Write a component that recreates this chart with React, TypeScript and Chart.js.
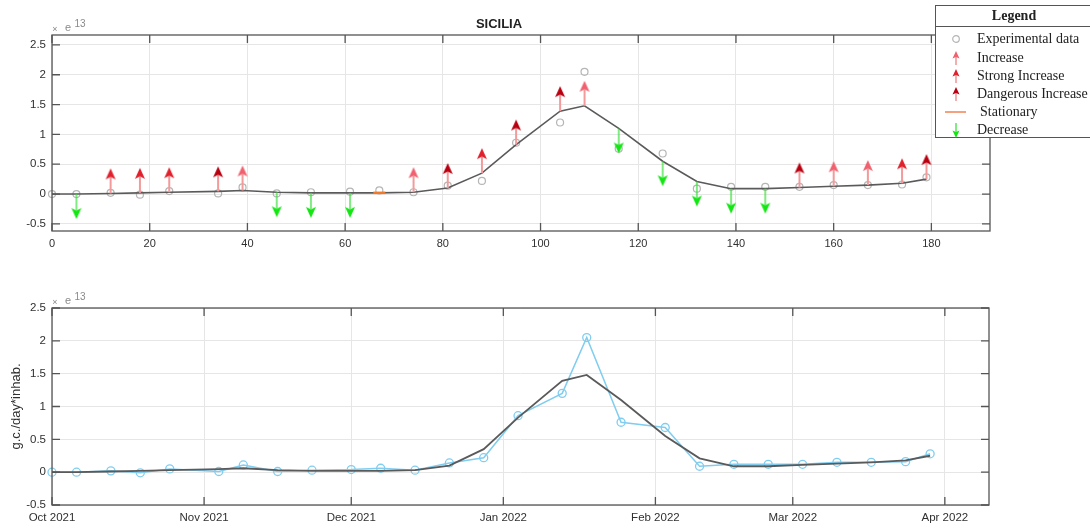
import React, { useEffect, useRef } from 'react';
import { Chart, registerables } from 'chart.js';

Chart.register(...registerables);

// Sampling days, counted from 1 Oct 2021 (values in units of 1e13 g.c./day*inhab.)
const DAYS = [0, 5, 12, 18, 24, 34, 39, 46, 53, 61, 67, 74, 81, 88, 95, 104, 109, 116, 125, 132, 139, 146, 153, 160, 167, 174, 179];
const EXPERIMENTAL = [0.0, 0.0, 0.02, -0.01, 0.05, 0.01, 0.11, 0.01, 0.03, 0.04, 0.06, 0.03, 0.14, 0.22, 0.86, 1.2, 2.05, 0.76, 0.68, 0.09, 0.12, 0.12, 0.12, 0.15, 0.15, 0.16, 0.28];
const TREND = [0.0, 0.0, 0.01, 0.02, 0.03, 0.045, 0.06, 0.03, 0.02, 0.02, 0.02, 0.03, 0.1, 0.35, 0.83, 1.39, 1.48, 1.1, 0.55, 0.21, 0.09, 0.09, 0.11, 0.13, 0.15, 0.18, 0.25];
// '' none, dec Decrease, inc Increase, strong Strong Increase, danger Dangerous Increase, stat Stationary
const TREND_CLASS = ['', 'dec', 'strong', 'strong', 'strong', 'danger', 'inc', 'dec', 'dec', 'dec', 'stat', 'inc', 'danger', 'strong', 'danger', 'danger', 'inc', 'dec', 'dec', 'dec', 'dec', 'dec', 'danger', 'inc', 'inc', 'strong', 'danger'];

const TOP_X_TICKS = [0, 20, 40, 60, 80, 100, 120, 140, 160, 180];
const Y_TICKS = [-0.5, 0, 0.5, 1, 1.5, 2, 2.5];
const MONTH_TICKS = [0, 31, 61, 92, 123, 151, 182];
const MONTH_LABELS = ['Oct 2021', 'Nov 2021', 'Dec 2021', 'Jan 2022', 'Feb 2022', 'Mar 2022', 'Apr 2022'];

const FONT = '"Liberation Sans", Arial, sans-serif';
const SERIF = '"Liberation Serif", "Times New Roman", serif';
const GRID = '#e6e6e6';
const BOX = '#555555';
const TICK_COLOR = '#303030';

const COLORS = {
  shaft: '#f39a9a',
  inc: '#f0606e',
  strong: '#e0202c',
  danger: '#b80010',
  decHead: '#14e614',
  decShaft: '#3ce03c',
  stat: '#f07a2a',
  exp: '#b5b5b5',
  trend: '#5a5a5a',
  blue: '#80cdf0',
};

function makeArrow(head: string, shaft: string, up: boolean, shaftW: number, headW: number, headH: number) {
  const len = 25;
  const W = 14;
  const H = 2 * len + 4;
  const c = document.createElement('canvas');
  c.width = W;
  c.height = H;
  const g = c.getContext('2d')!;
  const cx = W / 2;
  const base = H / 2;
  const dir = up ? -1 : 1;
  const tip = base + dir * len;
  const headBase = tip - dir * headH;
  g.strokeStyle = shaft;
  g.lineWidth = shaftW;
  g.beginPath();
  g.moveTo(cx, base);
  g.lineTo(cx, headBase + dir * 2);
  g.stroke();
  g.fillStyle = head;
  g.beginPath();
  g.moveTo(cx, tip);
  g.lineTo(cx - headW / 2, headBase);
  g.lineTo(cx, headBase + dir * 2.5);
  g.lineTo(cx + headW / 2, headBase);
  g.closePath();
  g.fill();
  return c;
}

const boxPlugin = {
  id: 'matlabBox',
  afterDraw(chart: any) {
    const { ctx, chartArea: a, scales } = chart;
    ctx.save();
    ctx.strokeStyle = BOX;
    ctx.lineWidth = 1.3;
    ctx.strokeRect(a.left, a.top, a.right - a.left, a.bottom - a.top);
    const TL = 8;
    ctx.beginPath();
    scales.x.ticks.forEach((t: any) => {
      const px = scales.x.getPixelForValue(t.value);
      ctx.moveTo(px, a.bottom);
      ctx.lineTo(px, a.bottom - TL);
      ctx.moveTo(px, a.top);
      ctx.lineTo(px, a.top + TL);
    });
    scales.y.ticks.forEach((t: any) => {
      const py = scales.y.getPixelForValue(t.value);
      ctx.moveTo(a.left, py);
      ctx.lineTo(a.left + TL, py);
      ctx.moveTo(a.right, py);
      ctx.lineTo(a.right - TL, py);
    });
    ctx.stroke();
    // exponent label
    ctx.fillStyle = '#8a8a8a';
    ctx.textBaseline = 'middle';
    ctx.textAlign = 'center';
    ctx.font = `9px ${FONT}`;
    ctx.fillText('×', a.left + 3, a.top - 5);
    ctx.font = `11px ${FONT}`;
    ctx.fillText('e', a.left + 16, a.top - 7);
    ctx.font = `10px ${FONT}`;
    ctx.fillText('13', a.left + 28, a.top - 11);
    ctx.restore();
  },
};

function yAxis(min: number, max: number, title?: string) {
  return {
    type: 'linear' as const,
    min,
    max,
    afterBuildTicks: (s: any) => {
      s.ticks = Y_TICKS.map((v) => ({ value: v }));
    },
    afterFit: (s: any) => {
      s.width = 44;
    },
    grid: { color: GRID, drawTicks: false, lineWidth: 1 },
    border: { display: false },
    ticks: {
      padding: 6,
      color: TICK_COLOR,
      font: { family: FONT, size: 11.5 },
      autoSkip: false,
      callback: (v: any) => String(v),
    },
    title: title
      ? { display: true, text: title, color: TICK_COLOR, font: { family: FONT, size: 13 }, padding: { top: 1, bottom: 0 } }
      : { display: false },
  };
}

function Legend() {
  const rows = [
    { text: 'Experimental data', c: 39 },
    { text: 'Increase', c: 58 },
    { text: 'Strong Increase', c: 76 },
    { text: 'Dangerous Increase', c: 94 },
    { text: 'Stationary', c: 112 },
    { text: 'Decrease', c: 130 },
  ];
  const top = 5;
  const arrowUp = (head: string, c: number) => (
    <svg width="12" height="16" viewBox="0 0 12 16" style={{ position: 'absolute', left: 14, top: c - top - 9 }}>
      <line x1="6" y1="15" x2="6" y2="6" stroke={COLORS.shaft} strokeWidth="1.6" />
      <polygon points="6,1 2.5,8.5 6,7 9.5,8.5" fill={head} />
    </svg>
  );
  return (
    <div
      style={{
        position: 'absolute',
        left: 935,
        top,
        width: 160,
        height: 133,
        border: `1px solid ${BOX}`,
        background: '#ffffff',
        fontFamily: SERIF,
        fontSize: 14,
        color: '#222',
        boxSizing: 'border-box',
      }}
    >
      <div
        style={{
          position: 'absolute',
          left: 0,
          top: 0,
          width: 156,
          height: 20,
          borderBottom: `1px solid ${BOX}`,
          textAlign: 'center',
          fontWeight: 'bold',
          lineHeight: '20px',
        }}
      >
        Legend
      </div>
      {rows.map((r, i) => (
        <div
          key={r.text}
          style={{
            position: 'absolute',
            left: i === 4 ? 44 : 41,
            top: r.c - top - 10,
            height: 18,
            lineHeight: '18px',
            whiteSpace: 'nowrap',
          }}
        >
          {r.text}
        </div>
      ))}
      <svg width="10" height="10" viewBox="0 0 10 10" style={{ position: 'absolute', left: 15, top: 39 - top - 6 }}>
        <circle cx="5" cy="5" r="3.3" fill="none" stroke={COLORS.exp} strokeWidth="1.2" />
      </svg>
      {arrowUp(COLORS.inc, 58)}
      {arrowUp(COLORS.strong, 76)}
      {arrowUp(COLORS.danger, 94)}
      <svg width="24" height="4" viewBox="0 0 24 4" style={{ position: 'absolute', left: 9, top: 112 - top - 3 }}>
        <line x1="0" y1="2" x2="21" y2="2" stroke="#f5a07e" strokeWidth="2" />
      </svg>
      <svg width="12" height="16" viewBox="0 0 12 16" style={{ position: 'absolute', left: 14, top: 130 - top - 8 }}>
        <line x1="6" y1="0" x2="6" y2="9" stroke={COLORS.decShaft} strokeWidth="1.3" />
        <polygon points="6,15 2.5,7.5 6,9 9.5,7.5" fill={COLORS.decHead} />
      </svg>
    </div>
  );
}

export default function App() {
  const topRef = useRef<HTMLCanvasElement>(null);
  const botRef = useRef<HTMLCanvasElement>(null);

  useEffect(() => {
    const imgs: Record<string, HTMLCanvasElement> = {
      inc: makeArrow(COLORS.inc, COLORS.shaft, true, 2, 10, 11),
      strong: makeArrow(COLORS.strong, COLORS.shaft, true, 2, 10, 11),
      danger: makeArrow(COLORS.danger, COLORS.shaft, true, 2, 10, 11),
      dec: makeArrow(COLORS.decHead, COLORS.decShaft, false, 1.3, 10, 11),
    };
    const pts = (vals: number[]) => DAYS.map((d, i) => ({ x: d, y: vals[i] }));
    const classPts = (cls: string) =>
      DAYS.flatMap((d, i) => (TREND_CLASS[i] === cls ? [{ x: d, y: TREND[i] }] : []));

    const arrowSet = (label: string, cls: string) => ({
      label,
      data: classPts(cls),
      showLine: false,
      pointStyle: imgs[cls],
      pointRadius: 5,
      order: 0,
    });

    const top = new Chart(topRef.current!, {
      type: 'scatter',
      data: {
        datasets: [
          arrowSet('Increase', 'inc'),
          arrowSet('Strong Increase', 'strong'),
          arrowSet('Dangerous Increase', 'danger'),
          arrowSet('Decrease', 'dec'),
          {
            label: 'Stationary',
            data: classPts('stat'),
            showLine: false,
            pointStyle: 'line',
            pointRadius: 6,
            pointBorderWidth: 2.5,
            pointBorderColor: COLORS.stat,
            order: 0,
          },
          {
            label: 'Trend',
            data: pts(TREND),
            showLine: true,
            borderColor: COLORS.trend,
            borderWidth: 1.6,
            pointRadius: 0,
            order: 2,
          },
          {
            label: 'Experimental data',
            data: pts(EXPERIMENTAL),
            showLine: false,
            pointStyle: 'circle',
            pointRadius: 3.5,
            pointBorderWidth: 1.2,
            pointBorderColor: COLORS.exp,
            pointBackgroundColor: 'rgba(0,0,0,0)',
            clip: false,
            order: 3,
          },
        ] as any,
      },
      options: {
        responsive: false,
        animation: false,
        events: [],
        layout: { padding: { left: 8, right: 100, top: 0, bottom: 0 } },
        plugins: {
          legend: { display: false },
          tooltip: { enabled: false },
          title: {
            display: true,
            text: 'SICILIA',
            color: '#222',
            font: { family: FONT, size: 13, weight: 'bold' },
            padding: { top: 17, bottom: 2.4 },
          },
        },
        scales: {
          x: {
            type: 'linear',
            min: 0,
            max: 192,
            afterBuildTicks: (s: any) => {
              s.ticks = TOP_X_TICKS.map((v) => ({ value: v }));
            },
            afterFit: (s: any) => {
              s.height = 31;
            },
            grid: { color: GRID, drawTicks: false },
            border: { display: false },
            ticks: {
              padding: 6,
              color: TICK_COLOR,
              font: { family: FONT, size: 11 },
              maxRotation: 0,
              autoSkip: false,
              callback: (v: any) => String(v),
            },
          },
          y: yAxis(-0.62, 2.667) as any,
        },
      },
      plugins: [boxPlugin],
    });

    const bot = new Chart(botRef.current!, {
      type: 'scatter',
      data: {
        datasets: [
          {
            label: 'Trend',
            data: pts(TREND),
            showLine: true,
            borderColor: COLORS.trend,
            borderWidth: 1.8,
            pointRadius: 0,
            order: 0,
          },
          {
            label: 'Measured',
            data: pts(EXPERIMENTAL),
            showLine: true,
            borderColor: COLORS.blue,
            borderWidth: 1.5,
            pointStyle: 'circle',
            pointRadius: 4,
            pointBorderWidth: 1.3,
            pointBorderColor: COLORS.blue,
            pointBackgroundColor: 'rgba(0,0,0,0)',
            clip: false,
            order: 1,
          },
        ] as any,
      },
      options: {
        responsive: false,
        animation: false,
        events: [],
        layout: { padding: { left: 8, right: 101, top: 46, bottom: 0 } },
        plugins: { legend: { display: false }, tooltip: { enabled: false } },
        scales: {
          x: {
            type: 'linear',
            min: 0,
            max: 191,
            afterBuildTicks: (s: any) => {
              s.ticks = MONTH_TICKS.map((v) => ({ value: v }));
            },
            afterFit: (s: any) => {
              s.height = 25;
            },
            grid: { color: GRID, drawTicks: false },
            border: { display: false },
            ticks: {
              padding: 6,
              color: TICK_COLOR,
              font: { family: FONT, size: 11.5 },
              maxRotation: 0,
              autoSkip: false,
              callback: (v: any) => MONTH_LABELS[MONTH_TICKS.indexOf(v)] ?? '',
            },
          },
          y: yAxis(-0.5, 2.5, 'g.c./day*inhab.') as any,
        },
      },
      plugins: [boxPlugin],
    });

    return () => {
      top.destroy();
      bot.destroy();
    };
  }, []);

  return (
    <div style={{ position: 'fixed', left: 0, top: 0, width: 1090, height: 530, overflow: 'hidden', background: '#fff' }}>
      <canvas ref={topRef} width={1090} height={262} style={{ position: 'absolute', left: 0, top: 0, width: 1090, height: 262 }} />
      <canvas ref={botRef} width={1090} height={268} style={{ position: 'absolute', left: 0, top: 262, width: 1090, height: 268 }} />
      <Legend />
    </div>
  );
}
